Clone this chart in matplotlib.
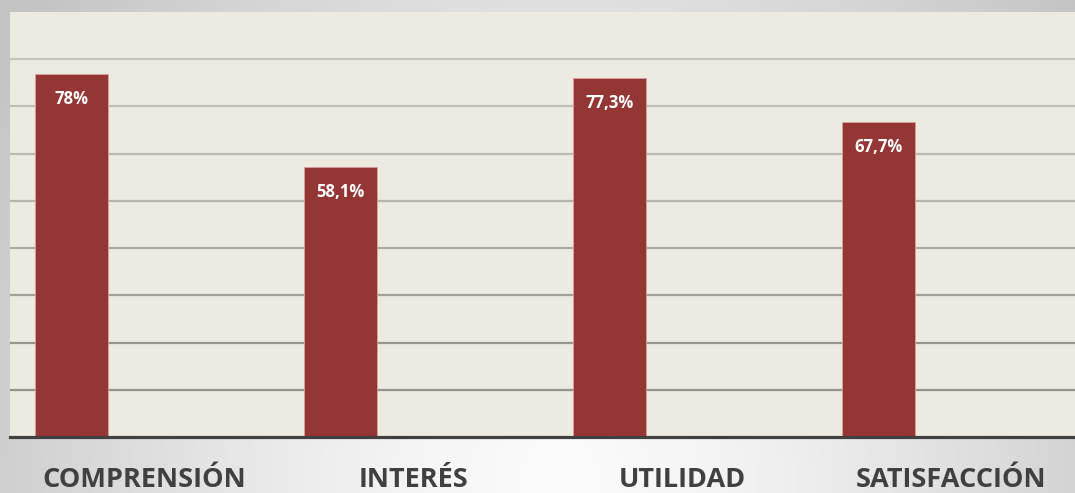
import numpy as np
import matplotlib.pyplot as plt

categories = ['COMPRENSIÓN', 'INTERÉS', 'UTILIDAD', 'SATISFACCIÓN']
values = [78.0, 58.1, 77.3, 67.7]
value_labels = ['78%', '58,1%', '77,3%', '67,7%']

W, H = 1075, 493
fig = plt.figure(figsize=(W / 100, H / 100), dpi=100)

# grey vignette background
bg = fig.add_axes([0, 0, 1, 1])
yy, xx = np.mgrid[0:H, 0:W]
d = np.sqrt(((xx - 0.52 * W) / (0.62 * W)) ** 2 + ((yy - 0.98 * H) / (1.6 * H)) ** 2)
d = np.clip(d, 0, 1)
shade = 0.985 - 0.22 * d ** 1.4
bg.imshow(np.dstack([shade] * 3), extent=[0, W, H, 0], aspect='auto')
bg.axis('off')

ax = fig.add_axes([10 / W, 56 / H, 1065 / W, 425 / H])
ax.set_facecolor('#edeae0')
x = np.arange(len(categories))
bw = 73 / 269
bars = ax.bar(x - bw, values, width=bw, color='#943634', edgecolor='#d9a0a0', linewidth=0.6, zorder=3)

ymax = 425 / 4.65
ax.set_ylim(0, ymax)
ax.set_xlim(-0.5, 3.46)
ax.set_yticks(np.linspace(0, ymax, 10)[1:-1])
ax.yaxis.grid(True, linewidth=1.6, zorder=1)
grid_cols = ['#94918a', '#98958d', '#a29f97', '#aeaba3', '#b6b3ab', '#bdbab2', '#c3c0b8', '#c8c5bd']
for gl, c in zip(ax.get_ygridlines(), grid_cols):
    gl.set_color(c)
ax.tick_params(left=False, bottom=False, labelleft=False, labelbottom=False)
for s in ['top', 'right', 'left']:
    ax.spines[s].set_visible(False)
ax.spines['bottom'].set_color('#404040')
ax.spines['bottom'].set_linewidth(2.3)
ax.spines['bottom'].set_zorder(5)

for b, lab in zip(bars, value_labels):
    ax.annotate(lab, (b.get_x() + b.get_width() / 2, b.get_height()), xytext=(0, -18),
                textcoords='offset points', ha='center', va='center', color='white',
                fontsize=12, fontweight='bold', family='Open Sans', zorder=6)

for i, cat in enumerate(categories):
    ax.annotate(cat, (i, 0), xycoords=('data', 'axes fraction'), xytext=(0, -36),
                textcoords='offset points', ha='center', va='baseline', color='#404040',
                fontsize=19.5, fontweight='bold', family='Open Sans', annotation_clip=False)

fig.savefig('out.png', dpi=100)
